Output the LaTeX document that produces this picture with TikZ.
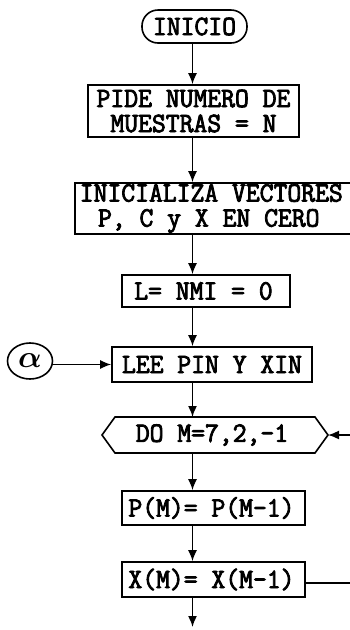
\documentclass[tikz,border=0pt]{standalone}
\usepackage{amsmath,amssymb}
\usepackage{fontspec}
\usetikzlibrary{arrows.meta,shapes.geometric,calc}
\newfontfamily\twfont[FakeStretch=0.96,FakeBold=3]{Latin Modern Mono}
\begin{document}
\begin{tikzpicture}[x=1pt,y=-1pt,
  every node/.style={font=\twfont\fontsize{28}{25}\selectfont, inner sep=0pt, align=center},
  boxnode/.style={draw, line width=1.6pt, rectangle},
  flow/.style={line width=1.6pt, -{Latex[length=11pt,width=9pt]}},
  plain/.style={line width=1.6pt}]
\useasboundingbox (0,0) rectangle (350,630);
\node[boxnode, rounded corners=16pt, minimum width=105, minimum height=33] (inicio) at (194.5,26.5) {INICIO};
\node[boxnode, minimum width=211, minimum height=52] (pide) at (193.5,111) {PIDE NUMERO DE\\MUESTRAS = N};
\node[boxnode, minimum width=290, minimum height=51, anchor=west] (inic) at (74,208.5) {INICIALIZA VECTORES\hspace*{17pt}\\P, C y X EN CERO\hspace*{22pt}};
\node[boxnode, minimum width=168, minimum height=32] (lnmi) at (206,291) {L= NMI = 0\hspace*{5pt}};
\node[boxnode, minimum width=200, minimum height=35] (lee) at (212,364.5) {LEE PIN Y XIN};
\node[draw, ellipse, line width=1.6pt, minimum width=45, minimum height=36] (alpha) at (30,361) {\scalebox{1.25}{$\boldsymbol{\alpha}$}};
\node (do) at (212,435) {DO M=7,2,-1};
\coordinate (dol) at (102,435);
\coordinate (dor) at (328,435);
\draw[plain] (dol) -- (115,417) -- (315,417) -- (dor) -- (315,453) -- (115,453) -- cycle;
\coordinate (dot) at (192.5,417);
\coordinate (dob) at (192.5,453);
\node[boxnode, minimum width=183, minimum height=34] (pm) at (213.5,508) {P(M)= P(M-1)\hspace*{4pt}};
\node[boxnode, minimum width=183, minimum height=35] (xm) at (213.5,579.5) {X(M)= X(M-1)\hspace*{4pt}};
\coordinate (ax) at (192.5,0);
\coordinate (inret) at (352,435);
\coordinate (outret) at (352,583);
\coordinate (endp) at (192.5,627);
\draw[flow] (inicio.south -| ax) -- (pide.north -| ax);
\draw[flow] (pide.south -| ax) -- (inic.north -| ax);
\draw[flow] (inic.south -| ax) -- (lnmi.north -| ax);
\draw[flow] (lnmi.south -| ax) -- (lee.north -| ax);
\draw[flow] (alpha.east |- lee.west) -- (lee.west);
\draw[flow] (lee.south -| ax) -- (dot);
\draw[flow] (inret) -- (dor);
\draw[flow] (dob) -- (pm.north -| ax);
\draw[flow] (pm.south -| ax) -- (xm.north -| ax);
\draw[plain] (xm.east |- outret) -- (outret);
\draw[flow] (xm.south -| ax) -- (endp);
\end{tikzpicture}
\end{document}
